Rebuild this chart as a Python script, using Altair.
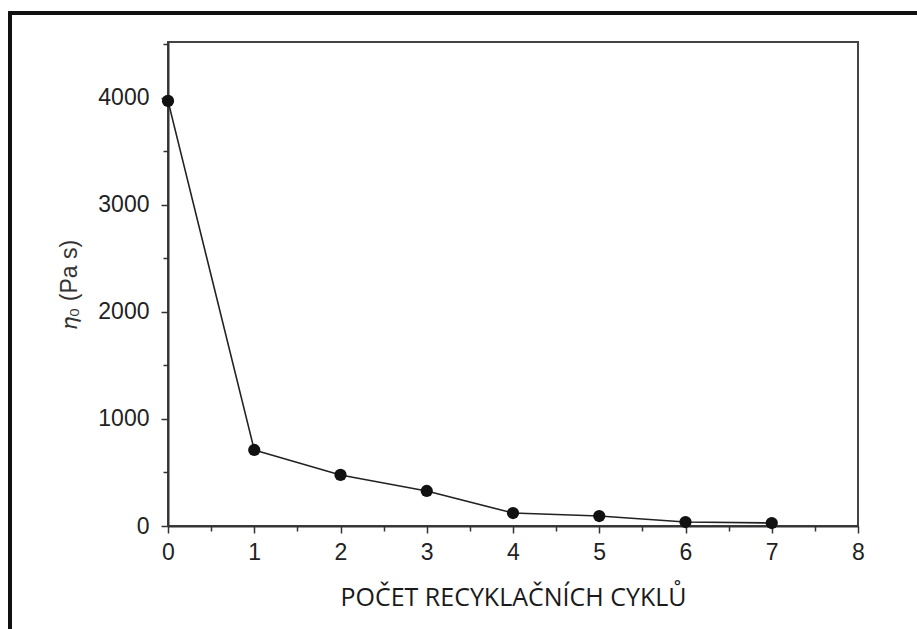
import altair as alt
import pandas as pd

# Zero-shear viscosity after repeated recycling cycles
cycles = [0, 1, 2, 3, 4, 5, 6, 7]
eta0 = [3970, 710, 477, 327, 121, 93, 37, 28]

major_x = [0, 1, 2, 3, 4, 5, 6, 7, 8]
minor_x = [0.5, 1.5, 2.5, 3.5, 4.5, 5.5, 6.5, 7.5]
major_y = [0, 1000, 2000, 3000, 4000]
minor_y = [500, 1500, 2500, 3500, 4500]

df = pd.DataFrame({"cycle": cycles, "eta": eta0})

W, H = 690, 484
PAD_L, PAD_T, PAD_R, PAD_B = 168, 42, 59, 103

x_scale = alt.Scale(domain=[0, 8], nice=False, zero=False)
y_scale = alt.Scale(domain=[0, 4520], nice=False)

label_font = "Liberation Sans"

x_major = alt.Axis(
    values=major_x, format="d", orient="bottom", tickSize=7, tickWidth=1.5,
    tickColor="#333", domainColor="#333", domainWidth=2, labelFont=label_font,
    labelFontSize=23, labelColor="#222", labelPadding=8, labelFlush=False,
    grid=False, title="POČET RECYKLAČNÍCH CYKLŮ", titleFont="Open Sans",
    titleFontSize=25, titleFontWeight="normal", titleColor="#1a1a1a",
    titlePadding=21,
)
y_major = alt.Axis(
    values=major_y, format="d", orient="left", tickSize=7, tickWidth=1.5,
    tickColor="#333", domainColor="#333", domainWidth=2, labelFont=label_font,
    labelFontSize=23, labelColor="#222", labelPadding=12, labelFlush=False,
    grid=False, title="𝜂₀ (Pa s)", titleFont=label_font, titleFontSize=23,
    titleFontWeight="normal", titleColor="#333", titlePadding=16,
)

line = alt.Chart(df).mark_line(color="#222", strokeWidth=1.6).encode(
    x=alt.X("cycle:Q", scale=x_scale, axis=x_major),
    y=alt.Y("eta:Q", scale=y_scale, axis=y_major),
)

points = alt.Chart(df).mark_circle(color="#111", opacity=1, size=150).encode(
    x=alt.X("cycle:Q", scale=x_scale, axis=None),
    y=alt.Y("eta:Q", scale=y_scale, axis=None),
)

# Minor ticks drawn by a second, label-free pair of axes on the same scales
minor = alt.Chart(df).mark_point(opacity=0).encode(
    x=alt.X("cycle:Q", scale=x_scale, axis=alt.Axis(
        values=minor_x, orient="bottom", labels=False, domain=False, grid=False,
        tickSize=5, tickWidth=1.5, tickColor="#333", title=None)),
    y=alt.Y("eta:Q", scale=y_scale, axis=alt.Axis(
        values=minor_y, orient="left", labels=False, domain=False, grid=False,
        tickSize=5, tickWidth=1.5, tickColor="#333", title=None)),
)

# Outer frame around the whole figure
frame = alt.Chart(df).mark_rect(
    fill=None, stroke="#111", strokeWidth=3, clip=False
).encode(
    x=alt.value(-PAD_L + 10), x2=alt.value(W + PAD_R + 20),
    y=alt.value(-PAD_T + 13), y2=alt.value(H + PAD_B + 20),
)

chart = (
    alt.layer(frame, line, points, minor)
    .resolve_axis(x="independent", y="independent")
    .properties(
        width=W, height=H,
        autosize=alt.AutoSizeParams(type="none"),
        padding={"left": PAD_L, "top": PAD_T, "right": PAD_R, "bottom": PAD_B},
        background="white",
    )
    .configure_view(stroke="#444", strokeWidth=2)
)

chart.save("out.html", embed_options={"renderer": "svg", "actions": False})
